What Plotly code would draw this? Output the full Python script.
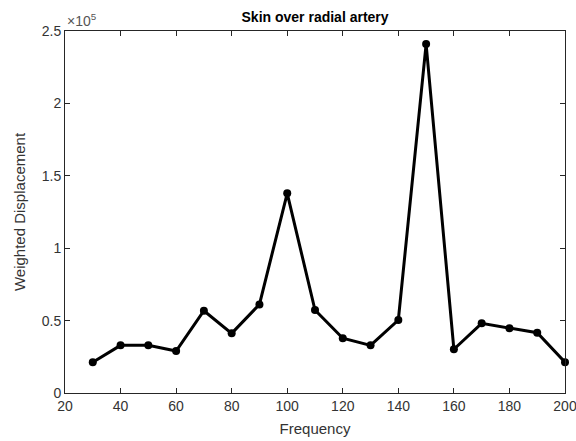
import plotly.graph_objects as go

frequency = [30, 40, 50, 60, 70, 80, 90, 100, 110, 120, 130, 140, 150, 160, 170, 180, 190, 200]
displacement = [21200, 32900, 32900, 29000, 56800, 41200, 61200, 137900, 57300, 37800, 32900, 50400,
                241000, 30200, 48100, 44700, 41600, 21200]
y_tick_vals = [0, 50000, 100000, 150000, 200000, 250000]
y_tick_text = ["0", "0.5", "1", "1.5", "2", "2.5"]
x_tick_vals = [20, 40, 60, 80, 100, 120, 140, 160, 180, 200]

fig = go.Figure()
fig.add_trace(go.Scatter(
    x=frequency, y=displacement, mode="lines+markers",
    line=dict(color="black", width=3),
    marker=dict(color="black", size=8),
    cliponaxis=False,
    showlegend=False,
))

axis_common = dict(
    showline=True, linecolor="#262626", linewidth=1, mirror="ticks",
    ticks="inside", ticklen=5, tickcolor="#262626", showgrid=False, zeroline=False,
    ticklabeloverflow="allow", automargin=False,
    tickfont=dict(family="Liberation Sans, Arial", size=14, color="#333333"),
)

fig.update_layout(
    width=576, height=441,
    margin=dict(l=65, r=11, t=31, b=48),
    paper_bgcolor="white", plot_bgcolor="white",
    title=dict(text="<b>Skin over radial artery</b>", x=0.547, xanchor="center", y=0.962, yanchor="middle",
               font=dict(family="Liberation Sans, Arial", size=14, color="black")),
    xaxis=dict(range=[20, 200], tickvals=x_tick_vals,
               title=dict(text="Frequency", standoff=10,
                          font=dict(family="Liberation Sans, Arial", size=15, color="#333333")),
               **axis_common),
    yaxis=dict(range=[0, 250000], tickvals=y_tick_vals, ticktext=y_tick_text,
               title=dict(text="Weighted Displacement", standoff=12,
                          font=dict(family="Liberation Sans, Arial", size=15, color="#333333")),
               **axis_common),
    font=dict(family="Liberation Sans, Arial"),
)

fig.add_annotation(text="×10<sup>5</sup>", xref="paper", yref="paper", x=0, y=1.0,
                   xanchor="left", yanchor="bottom", showarrow=False,
                   font=dict(family="Liberation Sans, Arial", size=14, color="#555555"))

fig.write_html("out.html")
